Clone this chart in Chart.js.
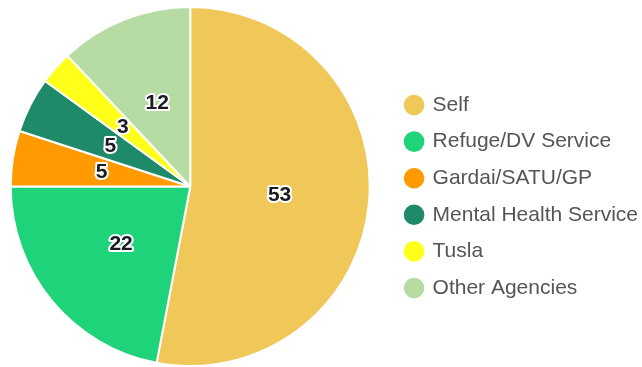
<!DOCTYPE html>
<html>
<head>
<meta charset="utf-8">
<script src="https://cdn.jsdelivr.net/npm/chart.js@4/dist/chart.umd.min.js"></script>
<style>
html,body{margin:0;padding:0;background:#fff;}
#wrap{width:642px;height:367px;position:relative;}
</style>
</head>
<body>
<div id="wrap"><canvas id="c" width="642" height="367"></canvas></div>
<script>
const categories = ["Self", "Refuge/DV Service", "Gardai/SATU/GP", "Mental Health Service", "Tusla", "Other Agencies"];
const values = [53, 22, 5, 5, 3, 12];
const colors = ["#F0C85A", "#1FD37B", "#FF9A00", "#1F8A6A", "#FFFF1A", "#B6DCA3"];

const valueLabels = {
  id: 'valueLabels',
  afterLayout(chart) {
    // leave a gap between the pie area and the legend
    chart.chartArea.right -= 10;
    chart.chartArea.width = chart.chartArea.right - chart.chartArea.left;
  },
  afterDatasetsDraw(chart) {
    const ctx = chart.ctx;
    const meta = chart.getDatasetMeta(0);
    ctx.save();
    ctx.font = 'bold 21px "Liberation Sans", Arial, sans-serif';
    ctx.textAlign = 'center';
    ctx.textBaseline = 'middle';
    ctx.lineJoin = 'round';
    meta.data.forEach((arc, i) => {
      const p = arc.tooltipPosition();
      const t = String(chart.data.datasets[0].data[i]);
      ctx.lineWidth = 4;
      ctx.strokeStyle = '#ffffff';
      ctx.strokeText(t, p.x, p.y);
      ctx.fillStyle = '#1b1b24';
      ctx.fillText(t, p.x, p.y);
    });
    ctx.restore();
  }
};

new Chart(document.getElementById('c'), {
  type: 'pie',
  data: {
    labels: categories,
    datasets: [{
      data: values,
      backgroundColor: colors,
      borderColor: '#ffffff',
      borderWidth: 2
    }]
  },
  options: {
    responsive: false,
    animation: false,
    layout: { padding: { top: 6, bottom: 0, left: 0, right: -6 } },
    plugins: {
      tooltip: { enabled: false },
      legend: {
        position: 'right',
        title: { display: true, text: ' ', padding: 4, font: { size: 10 } },
        labels: {
          usePointStyle: true,
          pointStyle: 'circle',
          boxWidth: 16,
          boxHeight: 16,
          padding: 15.6,
          color: '#555555',
          font: { family: '"Liberation Sans", Arial, sans-serif', size: 21 }
        }
      }
    }
  },
  plugins: [valueLabels]
});
</script>
</body>
</html>
